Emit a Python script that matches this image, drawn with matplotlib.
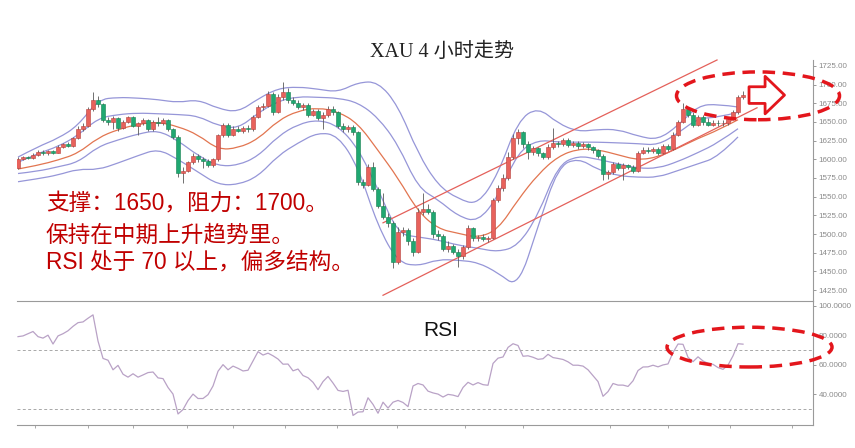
import numpy as np
import matplotlib
matplotlib.use("Agg")
import matplotlib.pyplot as plt
from matplotlib.patches import Ellipse, PathPatch
from matplotlib.path import Path
from matplotlib.ticker import FormatStrFormatter

plt.rcParams['font.family'] = ['Liberation Sans', 'Noto Sans CJK SC']

# 4h candles
opens = [1589, 1601, 1603, 1602, 1606, 1610, 1608, 1611, 1609, 1617, 1620, 1618, 1628, 1640, 1645, 1668,
         1680, 1674, 1652, 1650, 1655, 1642, 1650, 1656, 1645, 1648, 1652, 1640, 1650, 1648, 1652, 1640,
         1630, 1582, 1585, 1596, 1605, 1600, 1598, 1593, 1600, 1632, 1646, 1633, 1641, 1638, 1642, 1640,
         1657, 1670, 1672, 1688, 1664, 1684, 1690, 1680, 1676, 1670, 1673, 1660, 1665, 1655, 1660, 1668,
         1663, 1645, 1640, 1643, 1636, 1570, 1566, 1590, 1560, 1538, 1523, 1515, 1463, 1503, 1505, 1490,
         1476, 1530, 1534, 1530, 1500, 1497, 1480, 1484, 1476, 1470, 1482, 1508, 1494, 1496, 1493, 1495,
         1545, 1562, 1575, 1603, 1628, 1636, 1620, 1610, 1615, 1608, 1603, 1616, 1622, 1620, 1626, 1619,
         1622, 1618, 1620, 1616, 1612, 1605, 1580, 1583, 1594, 1588, 1592, 1590, 1584, 1609, 1613, 1611,
         1614, 1609, 1618, 1614, 1633, 1650, 1667, 1660, 1646, 1656, 1650, 1646, 1649, 1648, 1649, 1654,
         1663, 1683]
closes = [1601, 1603, 1602, 1606, 1610, 1608, 1611, 1609, 1617, 1620, 1618, 1628, 1640, 1645, 1668, 1680,
          1674, 1652, 1650, 1655, 1642, 1650, 1656, 1645, 1648, 1652, 1640, 1650, 1648, 1652, 1640, 1630,
          1582, 1585, 1596, 1605, 1600, 1598, 1593, 1600, 1632, 1646, 1633, 1641, 1638, 1642, 1640, 1657,
          1670, 1672, 1688, 1664, 1684, 1690, 1680, 1676, 1670, 1673, 1660, 1665, 1655, 1660, 1668, 1663,
          1645, 1640, 1643, 1636, 1570, 1566, 1590, 1560, 1538, 1523, 1515, 1463, 1503, 1505, 1490, 1476,
          1530, 1534, 1530, 1500, 1497, 1480, 1484, 1476, 1470, 1482, 1508, 1494, 1496, 1493, 1495, 1545,
          1562, 1575, 1603, 1628, 1636, 1620, 1610, 1615, 1608, 1603, 1616, 1622, 1620, 1626, 1619, 1622,
          1618, 1620, 1616, 1612, 1605, 1580, 1583, 1594, 1588, 1592, 1590, 1584, 1609, 1613, 1611, 1614,
          1609, 1618, 1614, 1633, 1650, 1667, 1660, 1646, 1656, 1650, 1646, 1649, 1648, 1649, 1654, 1663,
          1683, 1686]
highs = [1603, 1605, 1605, 1608, 1612, 1612, 1613, 1613, 1619, 1622, 1623, 1630, 1645, 1648, 1670, 1690,
         1685, 1676, 1656, 1658, 1657, 1653, 1658, 1658, 1650, 1655, 1654, 1652, 1656, 1655, 1654, 1642,
         1632, 1590, 1598, 1608, 1607, 1603, 1600, 1602, 1634, 1649, 1648, 1644, 1645, 1644, 1646, 1659,
         1673, 1675, 1691, 1690, 1688, 1703, 1696, 1683, 1679, 1676, 1675, 1668, 1667, 1663, 1671, 1672,
         1665, 1648, 1646, 1646, 1638, 1574, 1594, 1596, 1563, 1555, 1528, 1518, 1510, 1510, 1508, 1494,
         1535, 1555, 1540, 1532, 1505, 1500, 1490, 1487, 1480, 1485, 1512, 1510, 1499, 1500, 1498, 1548,
         1566, 1580, 1610, 1634, 1640, 1638, 1624, 1618, 1617, 1610, 1620, 1642, 1625, 1629, 1628, 1625,
         1624, 1623, 1622, 1618, 1614, 1607, 1586, 1597, 1597, 1595, 1594, 1593, 1611, 1616, 1616, 1617,
         1617, 1621, 1620, 1636, 1652, 1676, 1670, 1663, 1659, 1660, 1655, 1653, 1652, 1653, 1657, 1666,
         1686, 1692]
lows = [1587, 1599, 1600, 1601, 1604, 1606, 1606, 1607, 1608, 1615, 1616, 1617, 1627, 1638, 1643, 1665,
        1670, 1650, 1646, 1640, 1638, 1640, 1648, 1643, 1632, 1646, 1638, 1638, 1645, 1646, 1638, 1627,
        1576, 1568, 1583, 1594, 1596, 1588, 1590, 1590, 1598, 1630, 1630, 1631, 1636, 1635, 1637, 1638,
        1655, 1666, 1670, 1660, 1662, 1680, 1676, 1673, 1667, 1666, 1657, 1658, 1652, 1640, 1657, 1660,
        1642, 1637, 1636, 1633, 1565, 1562, 1564, 1557, 1535, 1520, 1510, 1455, 1460, 1498, 1485, 1470,
        1474, 1526, 1527, 1495, 1492, 1477, 1476, 1473, 1456, 1467, 1480, 1490, 1490, 1490, 1489, 1493,
        1543, 1558, 1572, 1600, 1620, 1615, 1600, 1606, 1604, 1600, 1600, 1614, 1617, 1618, 1616, 1617,
        1614, 1615, 1613, 1609, 1602, 1572, 1574, 1580, 1586, 1572, 1587, 1582, 1583, 1607, 1608, 1609,
        1606, 1607, 1611, 1612, 1631, 1648, 1656, 1643, 1644, 1646, 1644, 1644, 1644, 1645, 1646, 1652,
        1661, 1681]

# indicator lines, sampled every 4 candles
band_step = 4
upper_outer = [1603, 1617, 1628, 1645, 1680, 1683, 1682, 1680, 1676, 1680, 1668, 1663, 1681, 1695, 1697, 1694,
               1690, 1703, 1704, 1672, 1608, 1565, 1547, 1539, 1580, 1652, 1670, 1648, 1637, 1640, 1640, 1631,
               1626, 1645, 1672, 1674, 1670]
upper_inner = [1596, 1608, 1617, 1632, 1655, 1660, 1662, 1661, 1660, 1658, 1645, 1641, 1662, 1678, 1684, 1683,
               1682, 1676, 1656, 1620, 1562, 1546, 1524, 1516, 1550, 1610, 1626, 1623, 1623, 1623, 1622, 1621,
               1619, 1635, 1655, 1656, 1663]
moving_avg = [1587, 1592, 1599, 1608, 1629, 1640, 1647, 1650, 1644, 1633, 1613, 1615, 1627, 1652, 1665, 1669,
              1664, 1648, 1612, 1575, 1530, 1507, 1501, 1495, 1506, 1546, 1580, 1604, 1614, 1613, 1606, 1599,
              1603, 1615, 1628, 1639, 1653]
lower_inner = [1581, 1584, 1590, 1596, 1617, 1626, 1634, 1639, 1625, 1605, 1591, 1592, 1604, 1631, 1647, 1653,
               1645, 1615, 1560, 1500, 1496, 1492, 1485, 1481, 1476, 1484, 1525, 1592, 1605, 1600, 1594, 1588,
               1588, 1597, 1609, 1622, 1641]
lower_outer = [1570, 1574, 1579, 1587, 1586, 1595, 1605, 1614, 1600, 1583, 1566, 1566, 1577, 1605, 1622, 1636,
               1632, 1590, 1510, 1462, 1457, 1466, 1465, 1462, 1448, 1428, 1510, 1590, 1602, 1586, 1578, 1576,
               1576, 1585, 1594, 1603, 1630]

# trend channel (candle index, price)
channel_upper = [(73, 1515), (139.8, 1733)]
channel_lower = [(73, 1418), (147.8, 1669)]

# RSI, one value per candle
rsi = [79, 79.5, 81, 82.5, 79, 78, 80, 74, 79.5, 81, 83, 86, 88.5, 89, 91.5, 93.8,
       76, 64.2, 63, 56.5, 59.5, 53.5, 51.5, 53.8, 51.5, 53, 54.6, 55, 51, 50.5, 44.5, 40,
       26.5, 29.5, 35.6, 40, 37, 37, 39.6, 45.5, 55.5, 60, 56.5, 59, 57.5, 55.7, 56.2, 62.5,
       68.8, 66.5, 67.8, 66, 63.8, 60.3, 60.4, 55.8, 57, 52.6, 51.1, 48, 43, 48.5, 52, 47.5,
       42.5, 41.8, 42.6, 25.5, 27.8, 28, 37.5, 33, 27, 34.5, 30.5, 34.5, 35.7, 34.3, 31.5, 45.5,
       47.2, 46.2, 42, 40.8, 40, 38, 39.8, 39.3, 38.3, 44.5, 48, 46.2, 47.8, 46.4, 46, 60.8,
       64.4, 65.2, 71.7, 74.2, 73, 65.7, 66, 65, 63.6, 64, 67, 64.8, 64.2, 63.5, 61.9, 59.6,
       59.6, 59, 56.5, 52.5, 48.5, 38.5, 41.7, 47.2, 46.1, 46.1, 45.2, 49, 56, 58.4, 58.5, 59.6,
       58.5, 59.8, 60.5, 68.2, 74, 73.8, 65, 62, 65.3, 62.5, 60.9, 60.2, 58, 56.8, 59.7, 66,
       74.2, 73.9]

price_ticks = np.arange(1425, 1726, 25)
rsi_ticks = [40, 60, 80, 100]
day_ticks = [3.4, 14, 23, 33.8, 43, 53.4, 63.8, 75.8, 89.4, 101, 118.4, 130, 142.4, 154.8]

notes = ['支撑：1650，阻力：1700。', '保持在中期上升趋势里。', 'RSI 处于 70 以上，偏多结构。']

RED_UP = '#e8625c'
GREEN_DN = '#20a872'
BAND = '#9696d8'
NOTE_RED = '#c00000'
ELL_RED = '#e3161c'


def smooth_line(ax, xs, ys, **kw):
    # draw a rounded polyline through the read points (quadratic bezier corners)
    pts = np.column_stack([xs, ys]).astype(float)
    verts = [pts[0]]
    codes = [Path.MOVETO]
    for k in range(1, len(pts) - 1):
        end = pts[k + 1] if k == len(pts) - 2 else (pts[k] + pts[k + 1]) / 2
        verts += [pts[k], end]
        codes += [Path.CURVE3, Path.CURVE3]
    ax.add_patch(PathPatch(Path(verts, codes), fill=False, **kw))


fig = plt.figure(figsize=(8.55, 4.48), dpi=100)
ax = fig.add_axes([0.0199, 0.3281, 0.931, 0.538])
ax_rsi = fig.add_axes([0.0199, 0.0513, 0.931, 0.2768])

o = np.array(opens, float)
c = np.array(closes, float)
h = np.array(highs, float)
l = np.array(lows, float)
idx = np.arange(len(c))
up = c >= o

ax.vlines(idx, l, h, color='#5a5a5a', lw=0.6, zorder=3)
body_lo = np.minimum(o, c)
body_h = np.maximum(np.abs(c - o), 0.8)
ax.bar(idx[up], body_h[up], bottom=body_lo[up], width=0.64, color=RED_UP,
       edgecolor='#b5403a', lw=0.4, zorder=4)
ax.bar(idx[~up], body_h[~up], bottom=body_lo[~up], width=0.64, color=GREEN_DN,
       edgecolor='#16804f', lw=0.4, zorder=4)

bx = np.arange(len(moving_avg)) * band_step
for band in (upper_outer, upper_inner, lower_inner, lower_outer):
    smooth_line(ax, bx, band, ec=BAND, lw=0.9, zorder=2)
smooth_line(ax, bx, moving_avg, ec='#e27550', lw=0.9, zorder=2)

for line in (channel_upper, channel_lower):
    xs, ys = zip(*line)
    ax.plot(xs, ys, color='#e4605a', lw=0.9, zorder=2, clip_on=False)

ax.set_xlim(-0.2, 159)
ax.set_ylim(1410.3, 1733)
ax.yaxis.tick_right()
ax.set_yticks(price_ticks)
ax.yaxis.set_major_formatter(FormatStrFormatter('%.2f'))
ax.set_xticks([])
ax.tick_params(axis='y', labelsize=5.8, colors='#8a8a8a', length=2.5, width=0.6, pad=1.5)
for s in ('left', 'top', 'bottom'):
    ax.spines[s].set_visible(False)
ax.spines['right'].set_color('#9a9a9a')
ax.spines['right'].set_linewidth(0.8)

# annotations on price panel
ax.add_patch(Ellipse((148, 1685), 32.6, 64, fill=False, ec=ELL_RED, lw=2.5,
                     ls=(0, (3.6, 2.2)), clip_on=False, zorder=6))
ax.annotate('', xy=(153.3, 1686), xytext=(146.2, 1686), annotation_clip=False,
            arrowprops=dict(arrowstyle='simple,head_length=0.7,head_width=1.35,tail_width=0.6',
                            fc='white', ec=ELL_RED, lw=2, mutation_scale=20,
                            shrinkA=0, shrinkB=0), zorder=7)

# RSI panel
ax_rsi.plot(idx[:len(rsi)], rsi, color='#b9a2c6', lw=0.9)
for lvl in (70, 30):
    ax_rsi.axhline(lvl, color='#a8a8a8', lw=0.7, ls=(0, (3, 2.5)))
ax_rsi.set_xlim(-0.2, 159)
ax_rsi.set_ylim(19, 103.2)
ax_rsi.yaxis.tick_right()
ax_rsi.set_yticks(rsi_ticks)
ax_rsi.yaxis.set_major_formatter(FormatStrFormatter('%.4f'))
ax_rsi.set_xticks(day_ticks)
ax_rsi.set_xticklabels([])
ax_rsi.tick_params(axis='y', labelsize=5.8, colors='#8a8a8a', length=2.5, width=0.6, pad=1.5)
ax_rsi.tick_params(axis='x', colors='#9a9a9a', length=2.5, width=0.6)
ax_rsi.spines['left'].set_visible(False)
for s in ('right', 'top', 'bottom'):
    ax_rsi.spines[s].set_color('#9a9a9a')
    ax_rsi.spines[s].set_linewidth(0.8)
ax_rsi.add_patch(Ellipse((146.3, 71.9), 33, 27, fill=False, ec=ELL_RED, lw=2.5,
                         ls=(0, (3.6, 2.2)), clip_on=False, zorder=6))

# texts
fig.text(442 / 855, 1 - 52 / 448, 'XAU 4 小时走势', ha='center', va='center', fontsize=14.5,
         family=['Liberation Serif', 'Noto Sans CJK SC'], color='#222222')
for txt, yp in zip(notes, (203, 235, 262)):
    fig.text(46 / 855, 1 - yp / 448, txt, ha='left', va='center', fontsize=16.3, color=NOTE_RED)
fig.text(423 / 855, 1 - 331 / 448, 'RSI', ha='left', va='center', fontsize=15, color='#111111')

fig.savefig('out.png', dpi=100)
